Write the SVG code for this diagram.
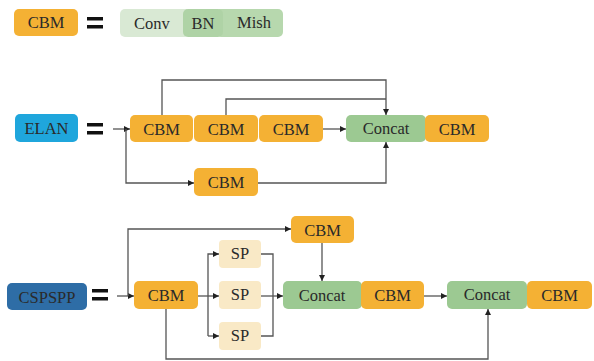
<svg xmlns="http://www.w3.org/2000/svg" width="594" height="361" viewBox="0 0 594 361">
  <style>
    text { font-family: 'Liberation Serif', 'DejaVu Serif', serif; font-size: 16.5px; fill: #2a2a2a; text-anchor: middle; dominant-baseline: central; }
    .cbm { fill: #f4b134; }
    .cat { fill: #9cc992; }
    .sp { fill: #f9e9c6; }
    .ln { fill: none; stroke: #555; stroke-width: 1.3; }
    .eq { fill: #111; }
  </style>
  <defs>
    <marker id="ah" viewBox="0 0 8 8" refX="8" refY="4" markerWidth="6" markerHeight="6" orient="auto" markerUnits="userSpaceOnUse">
      <path d="M0,0 L8,4 L0,8 Z" fill="#222"/>
    </marker>
  </defs>

  <rect x="0" y="0" width="594" height="361" fill="#fff"/>

  <!-- legend: CBM = Conv + BN + Mish -->
  <g id="legend-cbm">
    <rect class="cbm" x="14" y="9" width="64" height="27" rx="5"/>
    <text x="46" y="22.5">CBM</text>
  </g>
  <g id="eq1"><rect class="eq" x="87" y="17" width="16" height="3.5"/><rect class="eq" x="87" y="25" width="16" height="3.5"/></g>
  <g id="legend-conv">
    <rect x="120" y="9" width="70" height="28" rx="5" fill="#d9e9d4"/>
    <text x="152" y="23">Conv</text>
  </g>
  <g id="legend-mish">
    <rect x="216" y="9" width="67" height="28" rx="5" fill="#b7d8ae"/>
    <text x="254" y="22.5">Mish</text>
  </g>
  <g id="legend-bn">
    <rect x="183" y="9" width="40" height="28" rx="5" fill="#afd3a6"/>
    <text x="203" y="23.5">BN</text>
  </g>

  <!-- ELAN -->
  <g id="elan-label">
    <rect x="15" y="114" width="63" height="28" rx="5" fill="#1fa6dc"/>
    <text x="46.5" y="128">ELAN</text>
  </g>
  <g id="eq2"><rect class="eq" x="87" y="123" width="16" height="3.5"/><rect class="eq" x="87" y="131" width="16" height="3.5"/></g>

  <g id="connectors">
    <!-- ELAN -->
    <path class="ln" d="M113,129 H130" marker-end="url(#ah)"/>
    <path class="ln" d="M126,129 V183 H194" marker-end="url(#ah)"/>
    <path class="ln" d="M162,115 V80 H386 V115" marker-end="url(#ah)"/>
    <path class="ln" d="M226,115 V99 H386"/>
    <path class="ln" d="M323,129 H346" marker-end="url(#ah)"/>
    <path class="ln" d="M258,183 H386 V142" marker-end="url(#ah)"/>
    <!-- CSPSPP -->
    <path class="ln" d="M117,296 H134" marker-end="url(#ah)"/>
    <path class="ln" d="M128,296 V229 H291" marker-end="url(#ah)"/>
    <path class="ln" d="M198,296 H219" marker-end="url(#ah)"/>
    <path class="ln" d="M208,336 V254 H219" marker-end="url(#ah)"/>
    <path class="ln" d="M208,336 H219" marker-end="url(#ah)"/>
    <path class="ln" d="M261,254 H273 V336 H261"/>
    <path class="ln" d="M261,296 H283" marker-end="url(#ah)"/>
    <path class="ln" d="M322,243 V281" marker-end="url(#ah)"/>
    <path class="ln" d="M424,296 H447" marker-end="url(#ah)"/>
    <path class="ln" d="M166,309 V359 H488 V309" marker-end="url(#ah)"/>
  </g>

  <g id="elan-cbm1"><rect class="cbm" x="130" y="115" width="63" height="27" rx="5"/><text x="161.5" y="129">CBM</text></g>
  <g id="elan-cbm2"><rect class="cbm" x="194" y="115" width="64" height="27" rx="5"/><text x="226" y="129">CBM</text></g>
  <g id="elan-cbm3"><rect class="cbm" x="259" y="115" width="64" height="27" rx="5"/><text x="291" y="129">CBM</text></g>
  <g id="elan-concat"><rect class="cat" x="346" y="115" width="80" height="27" rx="5"/><text x="386" y="128">Concat</text></g>
  <g id="elan-cbm-out"><rect class="cbm" x="425" y="115" width="64" height="27" rx="5"/><text x="457" y="129">CBM</text></g>
  <g id="elan-cbm-side"><rect class="cbm" x="194" y="168" width="64" height="28" rx="5"/><text x="226" y="182">CBM</text></g>

  <!-- CSPSPP -->
  <g id="cspspp-label">
    <rect x="7" y="283" width="80" height="27" rx="5" fill="#2e6da6"/>
    <text x="47" y="297">CSPSPP</text>
  </g>
  <g id="eq3"><rect class="eq" x="92" y="289" width="16" height="3.5"/><rect class="eq" x="92" y="297" width="16" height="3.5"/></g>

  <g id="csp-cbm-in"><rect class="cbm" x="134" y="281" width="64" height="28" rx="5"/><text x="166" y="295">CBM</text></g>
  <g id="csp-cbm-top"><rect class="cbm" x="291" y="216" width="63" height="27" rx="5"/><text x="322.5" y="230">CBM</text></g>
  <g id="sp1"><rect class="sp" x="219" y="240" width="42" height="28" rx="4"/><text x="240" y="253">SP</text></g>
  <g id="sp2"><rect class="sp" x="219" y="281" width="42" height="28" rx="4"/><text x="240" y="294">SP</text></g>
  <g id="sp3"><rect class="sp" x="219" y="322" width="42" height="28" rx="4"/><text x="240" y="335">SP</text></g>
  <g id="csp-concat1"><rect class="cat" x="283" y="281" width="79" height="28" rx="5"/><text x="322" y="295">Concat</text></g>
  <g id="csp-cbm-mid"><rect class="cbm" x="361" y="281" width="63" height="28" rx="5"/><text x="392.5" y="295">CBM</text></g>
  <g id="csp-concat2"><rect class="cat" x="447" y="281" width="80" height="28" rx="5"/><text x="487" y="294">Concat</text></g>
  <g id="csp-cbm-out"><rect class="cbm" x="527" y="281" width="65" height="28" rx="5"/><text x="559.5" y="295">CBM</text></g>
</svg>
